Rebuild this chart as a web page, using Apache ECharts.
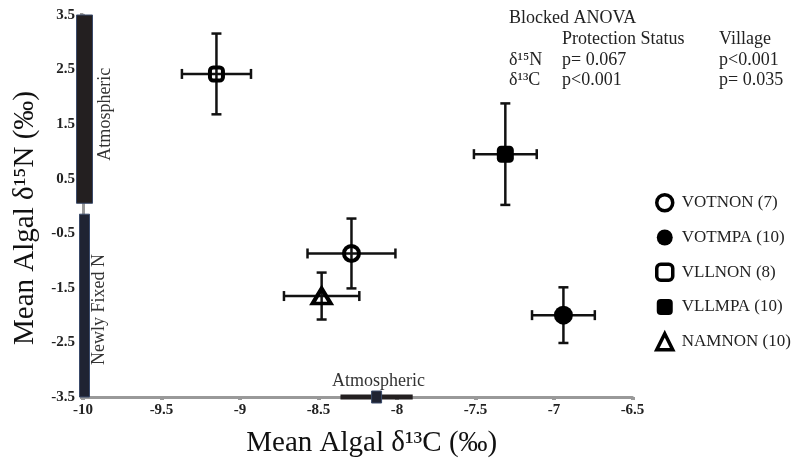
<!DOCTYPE html>
<html>
<head>
<meta charset="utf-8">
<script src="https://cdn.jsdelivr.net/npm/echarts@6/dist/echarts.min.js"></script>
<style>html,body{margin:0;padding:0;background:#fff;}#chart{width:800px;height:462px;}</style>
</head>
<body>
<div id="chart"></div>
<script>
// ---- data ----
const groups = ['VOTNON', 'VOTMPA', 'VLLNON', 'VLLMPA', 'NAMNON'];
const nCounts = [7, 10, 8, 10, 10];
const meanC = [-8.29, -6.94, -9.15, -7.31, -8.48];
const meanN = [-0.87, -2.00, 2.42, 0.95, -1.65];
const errC = [0.28, 0.20, 0.22, 0.20, 0.24];
const errN = [0.64, 0.51, 0.74, 0.93, 0.43];
const markerShapes = ['circle', 'circle', 'roundRect', 'roundRect', 'triangle'];
const markerFilled = [false, true, false, true, false];
// reference source ranges
const atmosphericN = [0.05, 3.5];
const fixedN = [-3.5, -0.15];
const atmosphericC = [-8.36, -7.90];
const atmosphericCMean = -8.13;
// axes
const xTicks = [-10, -9.5, -9, -8.5, -8, -7.5, -7, -6.5];
const yTicks = [-3.5, -2.5, -1.5, -0.5, 0.5, 1.5, 2.5, 3.5];
// annotation table
const anovaTitle = 'Blocked ANOVA';
const anovaCols = ['Protection Status', 'Village'];
const anovaRows = [['δ¹⁵N', 'p= 0.067', 'p<0.001'], ['δ¹³C', 'p<0.001', 'p= 0.035']];

const FONT = '"Liberation Serif", "DejaVu Serif", serif';
const chart = echarts.init(document.getElementById('chart'), null, {renderer: 'canvas'});

const axisCommon = {
  axisLine: {show: true, onZero: false, lineStyle: {color: '#999', width: 3}},
  axisTick: {show: true, length: 3, lineStyle: {color: '#999', width: 4}},
  splitLine: {show: false},
  axisLabel: {fontFamily: FONT, fontWeight: 'bold', fontSize: 15, color: '#222'}
};

const series = [];

// vertical source bars (delta15N)
series.push({
  type: 'custom', name: 'nbars', clip: false, z: 3, silent: true,
  data: [[xTicks[0], atmosphericN[0], atmosphericN[1]], [xTicks[0], fixedN[0], fixedN[1]]],
  renderItem: function (params, api) {
    const lo = api.coord([api.value(0), api.value(1)]);
    const hi = api.coord([api.value(0), api.value(2)]);
    const top = params.dataIndex === 0;
    const w = top ? 16 : 10;
    const cx = lo[0] + 1.5;
    const label = top ? 'Atmospheric' : 'Newly Fixed N';
    return {
      type: 'group',
      children: [
        {type: 'rect', shape: {x: cx - w / 2, y: hi[1], width: w, height: lo[1] - hi[1]},
         style: {fill: top ? '#231f20' : '#1f2332', stroke: '#3a4a6a', lineWidth: 1}},
        {type: 'text', x: top ? cx + 21 : cx + 15, y: (lo[1] + hi[1]) / 2 + (top ? 5 : 4), rotation: Math.PI / 2,
         style: {text: label, fontFamily: FONT, fontSize: 18, fill: '#333', align: 'center', verticalAlign: 'middle'}}
      ]
    };
  }
});

// horizontal source bar (delta13C)
series.push({
  type: 'custom', name: 'cbar', clip: false, z: 3, silent: true,
  data: [[atmosphericC[0], atmosphericC[1], atmosphericCMean, yTicks[0]]],
  renderItem: function (params, api) {
    const a = api.coord([api.value(0), api.value(3)]);
    const b = api.coord([api.value(1), api.value(3)]);
    const m = api.coord([api.value(2), api.value(3)]);
    return {
      type: 'group',
      children: [
        {type: 'line', shape: {x1: a[0], y1: a[1], x2: b[0], y2: b[1]}, style: {stroke: '#231f20', lineWidth: 5}},
        {type: 'rect', shape: {x: m[0] - 5, y: m[1] - 6, width: 10, height: 12},
         style: {fill: '#1f2332', stroke: '#3a4a6a', lineWidth: 1}},
        {type: 'text', x: m[0] + 2, y: m[1] - 16,
         style: {text: 'Atmospheric', fontFamily: FONT, fontSize: 18, fill: '#333', align: 'center', verticalAlign: 'middle'}}
      ]
    };
  }
});

// error bars
series.push({
  type: 'custom', name: 'errors', z: 4, silent: true,
  data: groups.map((g, i) => [meanC[i], meanN[i], errC[i], errN[i]]),
  renderItem: function (params, api) {
    const x = api.value(0), y = api.value(1), ex = api.value(2), ey = api.value(3);
    const l = api.coord([x - ex, y]), r = api.coord([x + ex, y]);
    const t = api.coord([x, y + ey]), b = api.coord([x, y - ey]);
    const c = 5;
    const st = {stroke: '#111', lineWidth: 2.5};
    return {
      type: 'group',
      children: [
        {type: 'line', shape: {x1: l[0], y1: l[1], x2: r[0], y2: r[1]}, style: st},
        {type: 'line', shape: {x1: t[0], y1: t[1], x2: b[0], y2: b[1]}, style: st},
        {type: 'line', shape: {x1: l[0], y1: l[1] - c, x2: l[0], y2: l[1] + c}, style: st},
        {type: 'line', shape: {x1: r[0], y1: r[1] - c, x2: r[0], y2: r[1] + c}, style: st},
        {type: 'line', shape: {x1: t[0] - c, y1: t[1], x2: t[0] + c, y2: t[1]}, style: st},
        {type: 'line', shape: {x1: b[0] - c, y1: b[1], x2: b[0] + c, y2: b[1]}, style: st}
      ]
    };
  }
});

// markers, one series per group
groups.forEach((g, i) => {
  const shape = markerShapes[i];
  let size;
  if (shape === 'circle') size = markerFilled[i] ? 19 : 15;
  else if (shape === 'roundRect') size = markerFilled[i] ? 17 : 13;
  else size = [18, 15];
  series.push({
    type: 'scatter', name: g + ' (' + nCounts[i] + ')', z: 5,
    symbol: shape, symbolSize: size,
    data: [[meanC[i], meanN[i]]],
    itemStyle: markerFilled[i]
      ? {color: '#000', borderWidth: 0, opacity: 1}
      : {color: 'rgba(255,255,255,0)', borderColor: '#000', borderWidth: 4, opacity: 1},
    emphasis: {disabled: true}
  });
});

const TXT = {fontFamily: FONT, fontSize: 18, fill: '#222'};
const graphics = [
  {type: 'text', left: 509, top: 9, style: Object.assign({text: anovaTitle}, TXT)},
  {type: 'text', left: 562, top: 30, style: Object.assign({text: anovaCols[0]}, TXT)},
  {type: 'text', left: 719, top: 30, style: Object.assign({text: anovaCols[1]}, TXT)}
];
anovaRows.forEach((row, r) => {
  const top = 51 + r * 20;
  graphics.push({type: 'text', left: 509, top: top, style: Object.assign({text: row[0]}, TXT)});
  graphics.push({type: 'text', left: 562, top: top, style: Object.assign({text: row[1]}, TXT)});
  graphics.push({type: 'text', left: 719, top: top, style: Object.assign({text: row[2]}, TXT)});
});

chart.setOption({
  animation: false,
  backgroundColor: '#fff',
  grid: {left: 83, right: 167.5, top: 15, bottom: 65, containLabel: false, outerBoundsMode: 'none'},
  xAxis: Object.assign({}, axisCommon, {
    type: 'value', min: xTicks[0], max: xTicks[xTicks.length - 1], interval: 0.5,
    axisLabel: Object.assign({}, axisCommon.axisLabel, {margin: 6}),
    name: 'Mean Algal δ¹³C (‰)', nameLocation: 'middle', nameGap: 32,
    nameTextStyle: {fontFamily: FONT, fontSize: 29, color: '#111', padding: [0, 0, 0, 28]}
  }),
  yAxis: Object.assign({}, axisCommon, {
    type: 'value', min: yTicks[0], max: yTicks[yTicks.length - 1], interval: 1,
    axisLabel: Object.assign({}, axisCommon.axisLabel, {margin: 8, formatter: v => String(Math.round(v * 10) / 10)}),
    name: 'Mean Algal δ¹⁵N (‰)', nameLocation: 'middle', nameGap: 42,
    nameTextStyle: {fontFamily: FONT, fontSize: 29, color: '#111', padding: [0, 24, 0, 0]}
  }),
  legend: {
    orient: 'vertical', left: 650, top: 188, itemWidth: 16, itemHeight: 16, itemGap: 16.5,
    selectedMode: false,
    textStyle: {fontFamily: FONT, fontSize: 17, color: '#222', padding: [0, 0, 0, 4]},
    data: groups.map((g, i) => ({
      name: g + ' (' + nCounts[i] + ')',
      itemStyle: markerFilled[i] ? {color: '#000', borderWidth: 0} : {color: 'rgba(255,255,255,0)', borderColor: '#000', borderWidth: 3.5}
    }))
  },
  graphic: graphics,
  series: series
});
</script>
</body>
</html>
